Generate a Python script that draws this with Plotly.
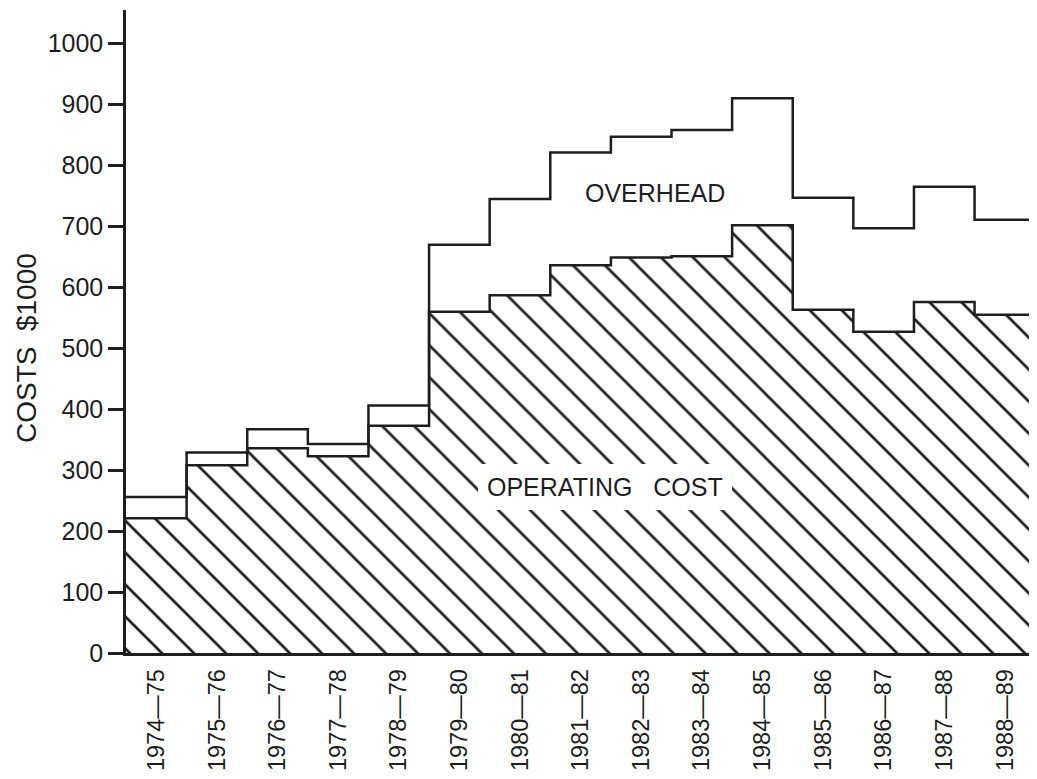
import plotly.graph_objects as go

years = ["1974\u201475", "1975\u201476", "1976\u201477", "1977\u201478", "1978\u201479",
         "1979\u201480", "1980\u201481", "1981\u201482", "1982\u201483", "1983\u201484",
         "1984\u201485", "1985\u201486", "1986\u201487", "1987\u201488", "1988\u201489"]
labels = [y.replace("\u2013", "\u2014") for y in years]
operating = [221, 308, 336, 323, 373, 560, 587, 636, 649, 651, 702, 563, 527, 576, 555]
total = [256, 329, 367, 343, 406, 670, 745, 821, 847, 858, 910, 747, 697, 765, 711]
y_ticks = [0, 100, 200, 300, 400, 500, 600, 700, 800, 900, 1000]

n = len(years)
edges = list(range(n + 1))
INK = "#1e1e1e"

fig = go.Figure()

# operating cost: hatched step area
fig.add_trace(go.Scatter(
    x=edges, y=operating + [operating[-1]],
    mode="lines", line=dict(shape="hv", color=INK, width=2.5),
    fill="tozeroy", fillcolor="white",
    fillpattern=dict(shape="\\", size=22.6, solidity=0.12, fgcolor=INK,
                     fgopacity=1, bgcolor="white"),
    hoverinfo="skip", showlegend=False,
))

# total (operating + overhead): outlined step
fig.add_trace(go.Scatter(
    x=edges + [n], y=total + [total[-1], operating[-1]],
    mode="lines", line=dict(shape="hv", color=INK, width=2.5),
    hoverinfo="skip", showlegend=False,
))

fig.add_annotation(x=8.73, y=755, xref="x", yref="y", text="OVERHEAD", showarrow=False,
                   font=dict(family="Liberation Sans", size=25, color=INK))
fig.add_annotation(x=7.9, y=273, xref="x", yref="y",
                   text="OPERATING\u00a0\u00a0\u00a0COST", showarrow=False,
                   font=dict(family="Liberation Sans", size=25, color=INK),
                   bgcolor="white", borderpad=9, borderwidth=0)
fig.add_annotation(x=-0.11, y=500, xref="paper", yref="y", xanchor="center", yanchor="middle",
                   text="COSTS\u00a0\u00a0$1000", textangle=-90, showarrow=False,
                   borderpad=0, font=dict(family="Liberation Sans", size=28, color=INK))

fig.update_layout(
    width=1029, height=771,
    margin=dict(l=118, r=0, t=2, b=126),
    paper_bgcolor="white", plot_bgcolor="white",
    font=dict(family="Liberation Sans", color=INK),
    xaxis=dict(range=[0, n + 0.03], showgrid=False, zeroline=False, automargin=False,
               showline=True, linecolor=INK, linewidth=2.5,
               tickvals=[i + 0.5 for i in range(n)], ticktext=labels,
               tickangle=-90, ticks="", ticklabelstandoff=4,
               tickfont=dict(size=23.5, color=INK)),
    yaxis=dict(range=[0, 1055], showgrid=False, zeroline=False, automargin=False,
               showline=True, linecolor=INK, linewidth=2.5,
               tickvals=y_ticks, ticks="outside", ticklen=15, tickwidth=2.5,
               tickcolor=INK, tickfont=dict(size=25, color=INK)),
)

fig.write_html("out.html")
